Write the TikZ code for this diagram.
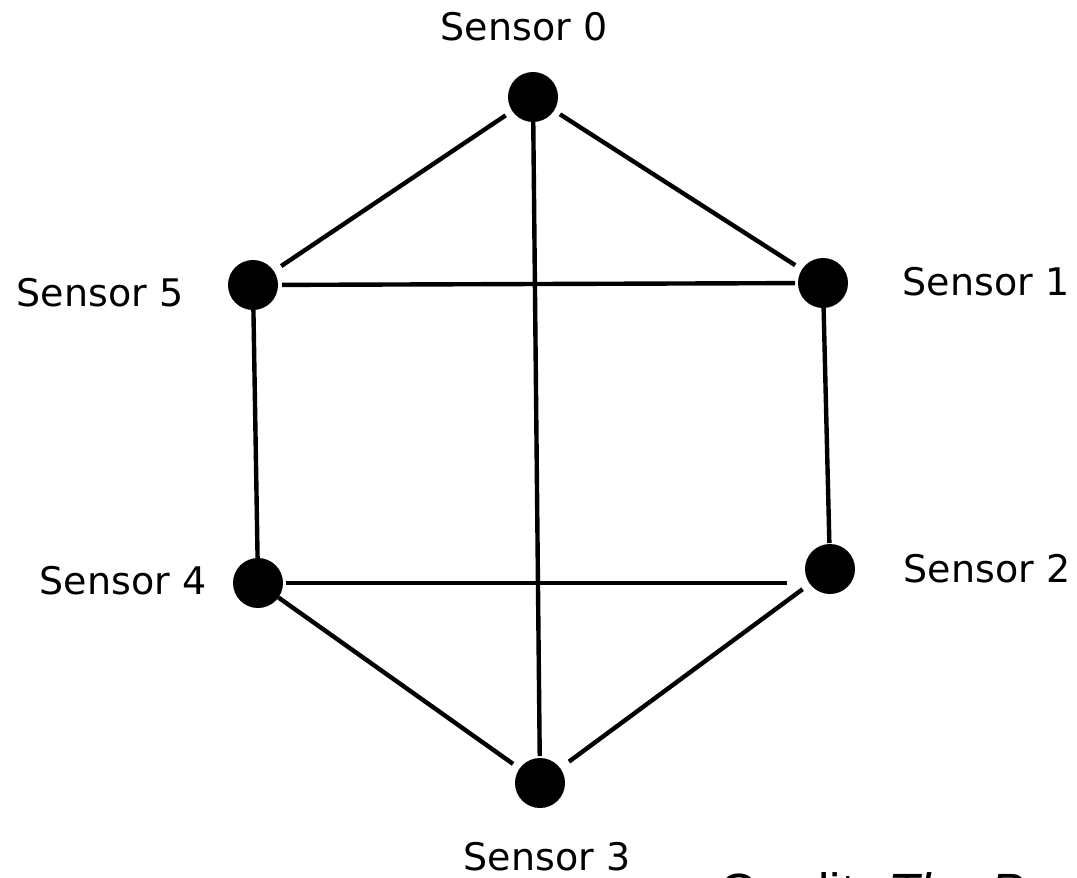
\documentclass[tikz,border=0pt]{standalone}
\usepackage{fontspec}
\setmainfont{DejaVu Sans}
\newfontfamily\creditfont{Liberation Sans}
\begin{document}
\begin{tikzpicture}[x=1pt,y=-1pt,
  sensor/.style={circle,fill=black,minimum size=50pt,inner sep=0pt,outer sep=0pt},
  lbl/.style={anchor=base,inner sep=0pt,font=\fontsize{38}{40}\selectfont},
  edge/.style={line width=4.4pt,black}]
\useasboundingbox (0,0) rectangle (1077,878);
\clip (0,0) rectangle (1077,878);
\node[sensor] (s0) at (533,97) {};
\node[sensor] (s1) at (823,283) {};
\node[sensor] (s2) at (830,569) {};
\node[sensor] (s3) at (540,783) {};
\node[sensor] (s4) at (258,583) {};
\node[sensor] (s5) at (253,285) {};
\node[lbl] (l0) at (524,40) {Sensor 0};
\node[lbl] (l1) at (986,295) {Sensor 1};
\node[lbl] (l2) at (987,582) {Sensor 2};
\node[lbl] (l3) at (547,870) {Sensor 3};
\node[lbl] (l4) at (123,594) {Sensor 4};
\node[lbl] (l5) at (100,306) {Sensor 5};
\node[anchor=base west,inner sep=0pt,font=\creditfont\fontsize{51}{56}\selectfont] (cr) at (719,909) {Credit: \textit{The P}};
\coordinate (h2) at (s4 -| s2);
\draw[edge,shorten <=8pt,shorten >=9pt] (s0) -- (s5);
\draw[edge,shorten <=7pt,shorten >=8pt] (s0) -- (s1);
\draw[edge,shorten <=0pt,shorten >=2pt] (s0) -- (s3);
\draw[edge,shorten <=4pt,shorten >=3pt] (s5) -- (s1);
\draw[edge] (s5) -- (s4);
\draw[edge,shorten >=1pt] (s1) -- (s2);
\draw[edge,shorten <=3pt,shorten >=43pt] (s4) -- (h2);
\draw[edge,shorten >=8pt] (s4) -- (s3);
\draw[edge,shorten <=9pt,shorten >=11pt] (s2) -- (s3);
\end{tikzpicture}
\end{document}
